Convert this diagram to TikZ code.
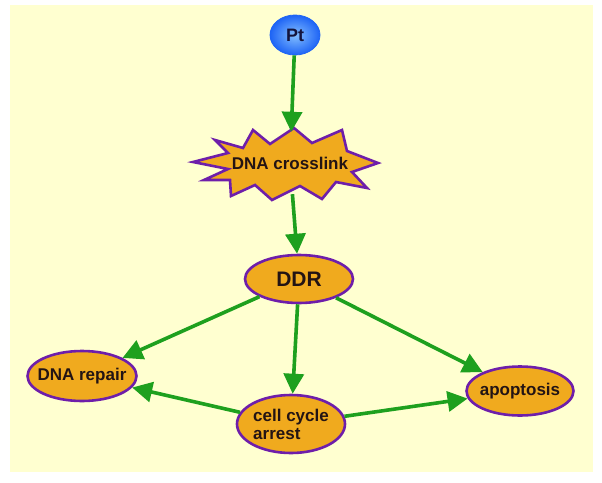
\documentclass[tikz,border=0pt]{standalone}
\usepackage{fontspec}
\setmainfont{Liberation Sans}
\usetikzlibrary{shapes.geometric,arrows.meta}

\definecolor{bgyellow}{RGB}{255,255,208}
\definecolor{boxorange}{RGB}{240,170,30}
\definecolor{rimpurple}{RGB}{110,30,170}
\definecolor{arrgreen}{RGB}{30,160,30}
\definecolor{txtdark}{RGB}{35,20,20}
\definecolor{ptlight}{RGB}{130,190,255}
\definecolor{ptblue}{RGB}{30,100,245}

\tikzset{
  blob/.style={ellipse,draw=rimpurple,line width=2.6pt,fill=boxorange,
    inner xsep=-14pt,inner ysep=0pt,text=txtdark,font=\bfseries\fontsize{17}{18}\selectfont},
  burst/.style={draw=rimpurple,line width=2.6pt,fill=boxorange,line join=miter},
  arr/.style={draw=arrgreen,line width=3.6pt,
    -{Triangle[length=20pt,width=20pt,fill=arrgreen]}}
}

\begin{document}
\begin{tikzpicture}[x=1pt,y=-1pt]
            \useasboundingbox (0,0) rectangle (602,482);
            \fill[bgyellow] (10,5) rectangle (593,472);
            % star outline of the crosslink
            \draw[burst] (193,162) -- (228,153) -- (215,140) -- (243,148) -- (253,130)
              -- (270,144) -- (294,128) -- (312,143) -- (342,130) -- (347,151)
              -- (378,163) -- (352,172) -- (367,188) -- (336,182) -- (322,199)
              -- (300,186) -- (272,200) -- (255,185) -- (231,196) -- (230,180)
              -- (204,180) -- (228,169) -- cycle;
            \node (pt) at (295,35) [ellipse,draw=ptblue,line width=0.8pt,shading=radial,
              inner color=ptlight,outer color=ptblue,
              minimum width=50pt,minimum height=40pt,inner sep=0pt,
              font=\bfseries\fontsize{18}{19}\selectfont,text={rgb,255:red,20;green,20;blue,60}] {Pt};
            \node (dc) at (290,163) [ellipse,minimum width=150pt,minimum height=62pt,inner sep=0pt,
              text=txtdark,font=\bfseries\fontsize{17}{18}\selectfont] {DNA crosslink};
            \node (ddr) at (299,279) [blob,minimum width=108pt,minimum height=48pt,
              font=\bfseries\fontsize{21}{22}\selectfont] {DDR};
            \node (rep) at (82,376) [blob,minimum width=109pt,minimum height=50pt] {DNA repair};
            \node (cca) at (291,424) [blob,minimum width=108pt,minimum height=58pt,
              align=left] {cell cycle\\arrest};
            \node (apo) at (520,391) [blob,minimum width=107pt,minimum height=49pt] {apoptosis};
            \draw[arr] (pt) -- (dc);
            \draw[arr] (dc) -- (ddr);
            \draw[arr] (ddr) -- (rep);
            \draw[arr] (ddr) -- (cca);
            \draw[arr] (ddr) -- (apo);
            \draw[arr] (cca) -- (rep);
            \draw[arr] (cca) -- (apo);
        \end{tikzpicture}
\end{document}
